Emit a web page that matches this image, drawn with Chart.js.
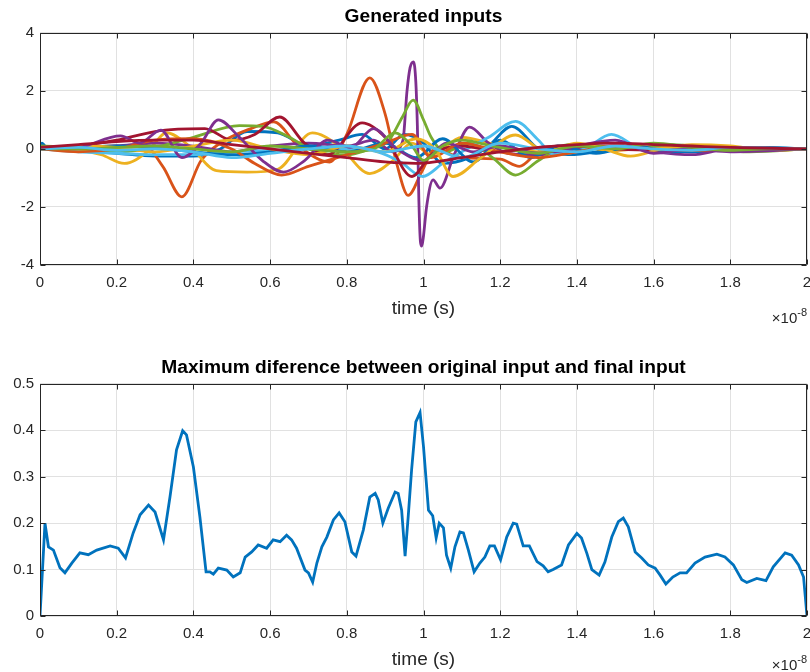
<!DOCTYPE html>
<html><head><meta charset="utf-8">
<script src="https://cdn.jsdelivr.net/npm/chart.js@4.4.1/dist/chart.umd.min.js"></script>
<style>
html,body{margin:0;padding:0;background:#fff;}
#wrap{position:relative;width:810px;height:672px;}
canvas{position:absolute;left:0;}
</style></head><body>
<div id="wrap">
<canvas id="c1" width="810" height="336" style="top:0"></canvas>
<canvas id="c2" width="810" height="336" style="top:336px"></canvas>
</div>
<script>
// ---------- tick labels ----------
const xTickLabels = ['0','0.2','0.4','0.6','0.8','1','1.2','1.4','1.6','1.8','2'];
const yTopTickLabels = ['-4','-2','0','2','4'];
const yBottomTickLabels = ['0','0.1','0.2','0.3','0.4','0.5'];

// ---------- top: generated inputs (time in units of 1e-8 s) ----------
const blue1X = [0,0.005,0.02,0.1,0.2,0.3,0.4,0.47,0.54,0.62,0.7,0.78,0.84,0.9,0.95,1.0,1.05,1.12,1.17,1.23,1.3,1.38,1.45,1.52,1.6,1.7,1.8,1.9,2.0];
const blue1Y = [0,0.2,0.0,-0.05,-0.15,-0.25,-0.25,0.0,0.6,0.55,0.1,0.3,0.5,0.0,0.5,0.2,-0.5,-0.3,0.1,0.78,0.0,-0.2,-0.1,0.1,-0.05,-0.1,0.0,0.05,0.0];
const orange1X = [0,0.1,0.2,0.27,0.32,0.37,0.42,0.47,0.55,0.61,0.67,0.755,0.8,0.86,0.9,0.93,0.96,0.995,1.03,1.1,1.2,1.25,1.3,1.4,1.5,1.6,1.8,2.0];
const orange1Y = [0,0.05,0.1,0.15,-0.6,-1.65,-0.4,0.2,0.7,0.93,0.15,-0.45,0.5,2.45,1.2,-0.5,-1.6,-0.8,0.0,-0.3,-0.35,-0.6,-0.1,0.1,-0.05,0.05,0,0];
const yellow1X = [0,0.1,0.16,0.22,0.28,0.33,0.39,0.46,0.54,0.62,0.71,0.78,0.86,0.92,0.97,1.02,1.1,1.2,1.3,1.4,1.5,1.6,1.7,1.8,2.0];
const yellow1Y = [0,-0.05,-0.2,-0.5,-0.1,0.55,0.1,-0.75,-0.8,-0.7,0.55,0.1,-0.85,-0.4,0.2,-0.2,0.4,0.1,-0.1,0.05,-0.05,0.05,0.0,-0.05,0];
const purple1X = [0,0.1,0.2,0.3,0.4,0.5,0.6,0.7,0.8,0.87,0.92,0.9465,0.957,0.965,0.974,0.98,0.984,0.988,0.992,0.9955,1.0,1.008,1.025,1.043,1.08,1.12,1.17,1.22,1.3,1.4,1.5,1.6,1.7,1.8,2.0];
const purple1Y = [0,0.05,0.1,0.2,0.1,-0.1,0.1,0.2,0.1,0.3,-0.1,0.3,2.0,2.8,3.0,2.3,0.8,-1.8,-3.2,-3.35,-3.0,-2.0,-1.07,-1.35,-0.2,0.75,0.2,-0.15,-0.2,0.0,0.1,-0.1,-0.2,0.0,0];
const green1X = [0,0.1,0.21,0.3,0.4,0.52,0.58,0.65,0.72,0.8,0.86,0.91,0.945,0.973,1.0,1.02,1.055,1.12,1.18,1.24,1.3,1.38,1.45,1.55,1.65,1.75,1.85,2.0];
const green1Y = [0.1,0.05,-0.1,0.05,0.4,0.8,0.78,0.4,-0.1,-0.2,0.0,0.3,1.1,1.68,1.0,0.4,-0.1,0.2,-0.3,-0.9,-0.4,0.15,0.1,0.05,0.15,0.0,-0.1,0];
const lightblue1X = [0,0.1,0.2,0.3,0.4,0.5,0.6,0.7,0.8,0.88,0.94,0.998,1.05,1.1,1.17,1.24,1.3,1.34,1.42,1.49,1.56,1.63,1.7,1.8,1.9,2.0];
const lightblue1Y = [0,-0.1,-0.15,-0.2,-0.2,-0.1,-0.05,0.0,0.0,-0.1,-0.45,-0.95,-0.5,-0.1,0.4,0.95,0.3,-0.2,0.0,0.5,0.05,-0.1,0.0,0.05,-0.02,0];
const darkred1X = [0,0.1,0.2,0.3,0.36,0.43,0.5,0.56,0.625,0.69,0.75,0.84,0.9,0.97,1.02,1.1,1.2,1.3,1.4,1.5,1.6,1.7,1.8,2.0];
const darkred1Y = [0,0.1,0.3,0.6,0.68,0.7,0.3,0.5,1.1,0.2,-0.2,0.9,0.4,-0.95,-0.2,0.1,-0.1,0.05,0.1,0.0,-0.05,0.0,0.05,0];
const blue2X = [0,0.1,0.2,0.3,0.4,0.5,0.6,0.7,0.8,0.9,0.98,1.05,1.13,1.2,1.28,1.35,1.45,1.55,1.65,1.75,1.85,2.0];
const blue2Y = [0,0.05,0.1,0.05,-0.1,-0.2,-0.1,0.1,-0.1,0.2,-0.3,0.35,-0.45,0.3,-0.3,0.1,-0.15,0.1,-0.1,0.05,-0.05,0];
const orange2X = [0,0.1,0.2,0.3,0.4,0.5,0.56,0.63,0.7,0.8,0.9,0.97,1.02,1.1,1.2,1.3,1.4,1.5,1.6,1.7,2.0];
const orange2Y = [0,-0.1,0.0,0.3,0.35,0.0,-0.5,-0.9,-0.6,-0.2,0.2,0.5,-0.3,0.2,-0.1,-0.3,-0.1,0.1,0.0,-0.05,0];
const yellow2X = [0,0.1,0.2,0.3,0.4,0.5,0.6,0.7,0.8,0.9,0.98,1.03,1.077,1.15,1.24,1.32,1.4,1.47,1.54,1.62,1.7,1.8,1.9,2.0];
const yellow2Y = [0,0.1,0.05,-0.1,0.1,0.3,0.0,-0.2,0.1,-0.1,0.35,0.0,-0.95,-0.3,0.48,-0.1,0.2,0.0,-0.25,0.0,0.15,0.1,-0.05,0];
const purple2X = [0,0.1,0.21,0.26,0.315,0.37,0.42,0.465,0.52,0.58,0.635,0.69,0.75,0.81,0.87,0.93,1.0,1.06,1.13,1.2,1.3,1.4,1.5,1.6,1.7,1.8,2.0];
const purple2Y = [0,0.05,0.45,0.2,0.65,-0.3,0.2,1.0,0.4,-0.4,-0.8,-0.4,0.3,0.05,0.7,0.0,-0.4,0.2,-0.1,0.1,-0.15,0.1,0.3,-0.15,0.0,-0.1,0];
const green2X = [0,0.1,0.2,0.3,0.4,0.5,0.6,0.7,0.8,0.87,0.925,0.97,1.0,1.05,1.1,1.18,1.3,1.4,1.5,1.6,1.7,1.8,1.9,2.0];
const green2Y = [0,0.0,0.05,0.1,0.0,-0.1,0.1,0.0,-0.1,0.0,0.55,0.1,-0.4,0.1,0.3,0.1,-0.15,0.1,0.0,0.2,0.05,-0.05,0.0,0];
const lightblue2X = [0,0.1,0.2,0.3,0.4,0.5,0.6,0.7,0.8,0.9,1.0,1.1,1.2,1.3,1.4,1.5,1.6,1.7,1.8,2.0];
const lightblue2Y = [0,0.05,-0.05,0.0,-0.1,-0.3,-0.15,0.0,0.1,-0.1,0.1,-0.3,0.2,0.0,-0.1,0.1,0.0,-0.05,0.05,0];
const darkred2X = [0,0.1,0.2,0.3,0.4,0.5,0.6,0.7,0.8,0.9,0.98,1.1,1.2,1.3,1.4,1.5,1.6,1.7,1.8,2.0];
const darkred2Y = [0.05,0.15,0.25,0.3,0.3,0.15,0.0,-0.15,-0.3,-0.45,-0.5,-0.3,-0.1,0.05,0.15,0.2,0.15,0.1,0.05,0];

// ---------- bottom: maximum difference ----------
const diffX = [0,0.013,0.022,0.035,0.052,0.065,0.083,0.104,0.126,0.148,
0.183,0.204,0.223,0.243,0.261,0.283,0.3,0.322,0.339,0.356,
0.372,0.382,0.4,0.417,0.433,0.443,0.452,0.465,0.487,0.504,
0.522,0.535,0.552,0.569,0.591,0.608,0.626,0.643,0.656,0.669,
0.691,0.7,0.711,0.722,0.735,0.748,0.765,0.78,0.795,0.813,
0.824,0.843,0.86,0.874,0.882,0.894,0.908,0.926,0.934,0.943,
0.952,0.96,0.969,0.98,0.991,1.0,1.013,1.024,1.033,1.041,
1.052,1.06,1.071,1.082,1.095,1.104,1.117,1.132,1.147,1.16,
1.173,1.185,1.201,1.217,1.234,1.243,1.26,1.276,1.296,1.312,
1.325,1.338,1.36,1.378,1.4,1.412,1.426,1.439,1.458,1.473,
1.491,1.508,1.521,1.534,1.552,1.569,1.586,1.604,1.617,1.632,
1.65,1.669,1.686,1.708,1.734,1.765,1.786,1.808,1.83,1.843,
1.869,1.893,1.912,1.943,1.96,1.978,1.991,2.0];
const diffY = [0,0.2,0.149,0.142,0.104,0.093,0.114,0.136,0.132,0.142,
0.151,0.146,0.125,0.179,0.218,0.239,0.224,0.164,0.257,0.358,
0.399,0.39,0.321,0.213,0.095,0.095,0.09,0.103,0.099,0.084,
0.093,0.127,0.138,0.153,0.146,0.164,0.16,0.174,0.164,0.146,
0.099,0.093,0.073,0.114,0.149,0.17,0.207,0.222,0.203,0.138,
0.129,0.185,0.256,0.264,0.25,0.2,0.232,0.267,0.264,0.228,
0.129,0.213,0.315,0.418,0.438,0.365,0.228,0.216,0.168,0.2,
0.19,0.131,0.103,0.149,0.181,0.179,0.142,0.095,0.114,0.127,
0.151,0.151,0.121,0.17,0.2,0.198,0.151,0.151,0.117,0.108,
0.095,0.1,0.11,0.153,0.178,0.168,0.135,0.1,0.088,0.116,
0.17,0.203,0.211,0.192,0.138,0.125,0.11,0.103,0.088,0.069,
0.084,0.093,0.093,0.114,0.127,0.133,0.127,0.11,0.078,0.072,
0.081,0.076,0.106,0.136,0.131,0.11,0.084,0];

// ---------- styling ----------
const C = {blue:'#0072BD', orange:'#D95319', yellow:'#EDB120', purple:'#7E2F8E', green:'#77AC30', lightblue:'#4DBEEE', darkred:'#A2142F'};
const topSeries = [
  [blue1X, blue1Y, C.blue], [orange1X, orange1Y, C.orange], [yellow1X, yellow1Y, C.yellow],
  [purple1X, purple1Y, C.purple], [green1X, green1Y, C.green], [lightblue1X, lightblue1Y, C.lightblue],
  [darkred1X, darkred1Y, C.darkred],
  [blue2X, blue2Y, C.blue], [orange2X, orange2Y, C.orange], [yellow2X, yellow2Y, C.yellow],
  [purple2X, purple2Y, C.purple], [green2X, green2Y, C.green], [lightblue2X, lightblue2Y, C.lightblue],
  [darkred2X, darkred2Y, C.darkred]
];
const FONT = '"Liberation Sans", Arial, Helvetica, sans-serif';
const AX = '#262626';
Chart.defaults.font.family = FONT;
Chart.defaults.color = AX;

const toPts = (xs, ys) => xs.map((v, i) => ({x: v, y: ys[i]}));

const matlabAxes = {
  id: 'matlabAxes',
  afterDatasetsDraw(chart, args, opts) {
    const {ctx, chartArea: a, scales: {x, y}} = chart;
    ctx.save();
    ctx.strokeStyle = AX; ctx.lineWidth = 1;
    const L = Math.round(a.left) + 0.5, R = Math.round(a.right) - 0.5;
    const T = Math.round(a.top) + 0.5, B = Math.round(a.bottom) - 0.5;
    ctx.beginPath();
    ctx.rect(L, T, R - L, B - T);
    const tl = 5;
    x.ticks.forEach(t => {
      const px = Math.round(x.getPixelForValue(t.value)) + 0.5;
      ctx.moveTo(px, B); ctx.lineTo(px, B - tl);
      ctx.moveTo(px, T); ctx.lineTo(px, T + tl);
    });
    y.ticks.forEach(t => {
      const py = Math.round(y.getPixelForValue(t.value)) + 0.5;
      ctx.moveTo(L, py); ctx.lineTo(L + tl, py);
      ctx.moveTo(R, py); ctx.lineTo(R - tl, py);
    });
    ctx.stroke();
    // exponent label x10^-8
    ctx.fillStyle = AX;
    ctx.textBaseline = 'alphabetic';
    ctx.font = '11px ' + FONT;
    const sup = '-8';
    const ws = ctx.measureText(sup).width;
    const base = a.bottom + opts.offset;
    ctx.textAlign = 'left';
    ctx.fillText(sup, a.right - ws, base - 7);
    ctx.font = '15px ' + FONT;
    ctx.textAlign = 'right';
    ctx.fillText('\u00d710', a.right - ws, base);
    ctx.restore();
  }
};

function makeChart(id, datasets, cfg) {
  return new Chart(document.getElementById(id), {
    type: 'line',
    data: {datasets},
    options: {
      responsive: false, animation: false, events: [],
      layout: {padding: {left: 0, right: 3, top: 0, bottom: 0}},
      elements: {point: {radius: 0}},
      plugins: {
        legend: {display: false}, tooltip: {enabled: false},
        title: {display: true, fullSize: false, text: cfg.title, color: '#000',
          font: {size: cfg.titleSize, weight: 'bold', family: FONT},
          padding: {top: cfg.titleTop, bottom: cfg.titleBottom}},
        matlabAxes: {offset: cfg.expOffset}
      },
      scales: {
        x: {
          type: 'linear', min: 0, max: 2,
          ticks: {stepSize: 0.2, padding: 9, color: AX, font: {size: 15},
            maxRotation: 0, autoSkip: false,
            callback: (v, i) => xTickLabels[i]},
          grid: {color: '#e1e1e1', drawTicks: false, lineWidth: 1},
          border: {display: false},
          title: {display: true, text: 'time (s)', color: AX, font: {size: 19},
            padding: {top: 0, bottom: cfg.xTitlePad}},
          afterFit: s => { s.height = cfg.xHeight; s.paddingLeft = 0; s.paddingRight = 0; }
        },
        y: {
          min: cfg.ymin, max: cfg.ymax,
          ticks: {stepSize: cfg.ystep, padding: 6, color: AX, font: {size: 15},
            autoSkip: false, callback: (v, i) => cfg.yLabels[i]},
          grid: {color: '#e1e1e1', drawTicks: false, lineWidth: 1},
          border: {display: false},
          afterFit: s => { s.width = 40; s.paddingTop = 0; s.paddingBottom = 0; }
        }
      }
    },
    plugins: [matlabAxes]
  });
}

const n = topSeries.length;
makeChart('c1', topSeries.map((s, i) => ({
  data: toPts(s[0], s[1]), borderColor: s[2], borderWidth: 2.8,
  cubicInterpolationMode: 'monotone', fill: false, order: n - i
})), {title: 'Generated inputs', titleSize: 19.2, titleTop: 5.4, titleBottom: 4.4,
  xHeight: 71, xTitlePad: 15.6,
  ymin: -4, ymax: 4, ystep: 2, yLabels: yTopTickLabels, expOffset: 58});

makeChart('c2', [{
  data: toPts(diffX, diffY), borderColor: C.blue, borderWidth: 2.8, tension: 0, fill: false
}], {title: 'Maximum diference between original input and final input', titleSize: 19.2,
  titleTop: 20.4, titleBottom: 4.4,
  xHeight: 56, xTitlePad: 0.6, ymin: 0, ymax: 0.5, ystep: 0.1,
  yLabels: yBottomTickLabels, expOffset: 54});
</script>
</body></html>
